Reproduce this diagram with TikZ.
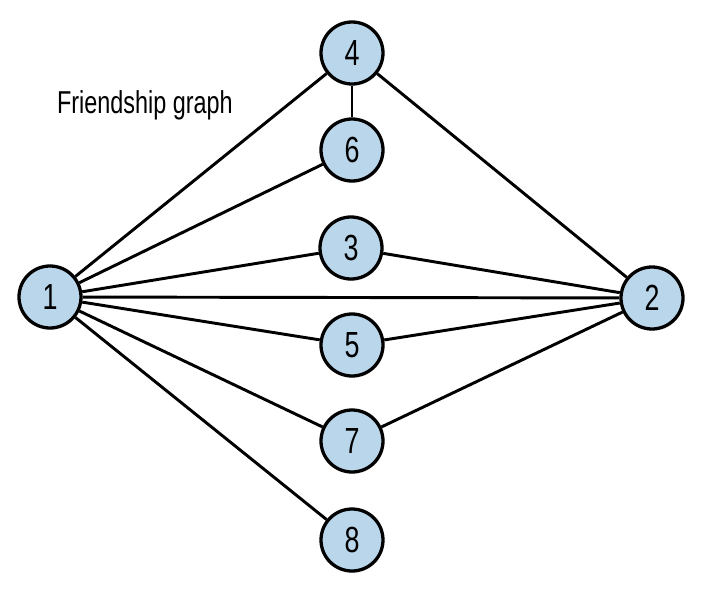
\documentclass[tikz,border=0pt]{standalone}
\usepackage{fontspec}
\setmainfont[FakeStretch=0.74]{Liberation Sans}
\usetikzlibrary{shadows}
\definecolor{friendblue}{RGB}{185,214,234}

\begin{document}
\begin{tikzpicture}[x=0.03cm,y=-0.03cm,
        person/.style={circle,draw=black,line width=2.8pt,fill=friendblue,
          minimum size=1.86cm,inner sep=0pt,font=\fontsize{31}{31}\selectfont,
          drop shadow={opacity=0.15,shadow xshift=0.03cm,shadow yshift=-0.06cm}},
        tie/.style={line width=2.5pt}]
        \useasboundingbox (0,0) rectangle (717,610);
        
        \node[anchor=west,font=\fontsize{27}{27}\selectfont] (title) at (53,105) {Friendship graph};
        
        \node[person] (p1) at (50,297) {1};
        \node[person] (p2) at (652,298) {2};
        \node[person] (p4) at (352,53) {4};
        \node[person] (p6) at (352,150) {6};
        \node[person] (p3) at (351,248) {3};
        \node[person] (p5) at (352,345) {5};
        \node[person] (p7) at (352,441) {7};
        \node[person] (p8) at (352,540) {8};
        
        \foreach \friend in {p4,p6,p3,p2,p5,p7,p8}
            \draw[tie] (p1) -- (\friend);
        \foreach \friend in {p4,p3,p5,p7}
            \draw[tie] (p2) -- (\friend);
        \draw[tie] (p4) -- (p6);
\end{tikzpicture}
\end{document}
